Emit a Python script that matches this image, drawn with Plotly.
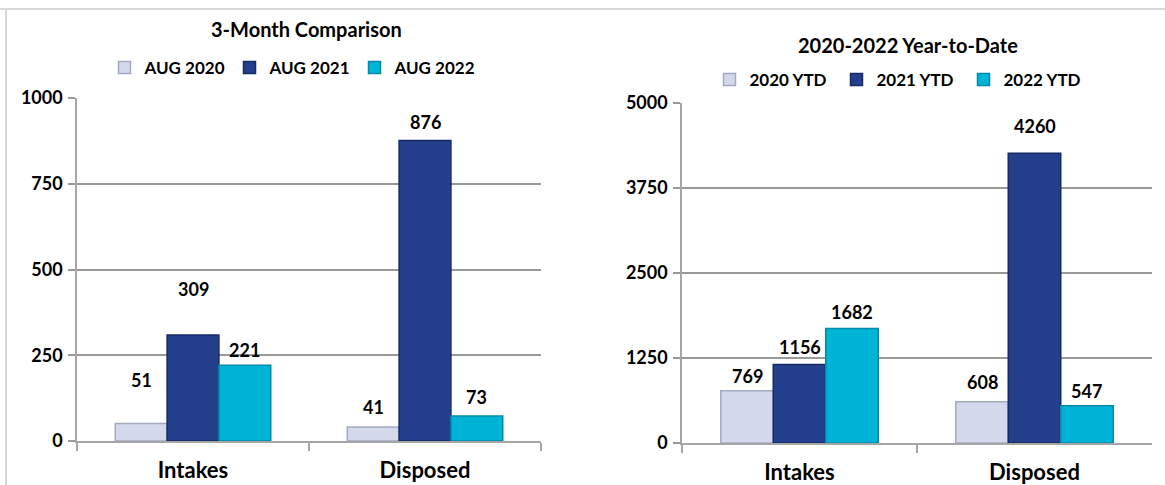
import plotly.graph_objects as go

categories = ["Intakes", "Disposed"]

month_series = ["AUG 2020", "AUG 2021", "AUG 2022"]
month_values = [[51, 41], [309, 876], [221, 73]]

ytd_series = ["2020 YTD", "2021 YTD", "2022 YTD"]
ytd_values = [[769, 608], [1156, 4260], [1682, 547]]

left_ticks = [0, 250, 500, 750, 1000]
right_ticks = [0, 1250, 2500, 3750, 5000]

# styling
colors = ["#d3d8ea", "#243f8c", "#00b4d8"]
line_colors = ["#a3a9c2", "#162a64", "#0089a8"]
W, H = 1165, 485
FONT = "Lato"

# label vertical shifts (px) per series/category, style only
left_shift = [[31, 7], [33, 6], [2, 6]]
right_shift = [[2, 7], [4, 14], [4, 2]]

fig = go.Figure()

def px_x(v):
    return v / W

def px_y(v):
    return (H - v) / H

panels = [
    dict(xa="x", ya="y", series=month_series, values=month_values, legend="legend",
         xdom=[px_x(77), px_x(541)], ydom=[px_y(441), px_y(98)], ticks=left_ticks,
         shift=left_shift),
    dict(xa="x2", ya="y2", series=ytd_series, values=ytd_values, legend="legend2",
         xdom=[px_x(682), px_x(1152)], ydom=[px_y(443), px_y(103)], ticks=right_ticks,
         shift=right_shift),
]

for p in panels:
    for i, (name, vals) in enumerate(zip(p["series"], p["values"])):
        fig.add_trace(go.Bar(
            x=categories, y=vals, name=name,
            xaxis=p["xa"], yaxis=p["ya"], legend=p["legend"],
            marker=dict(color=colors[i], line=dict(color=line_colors[i], width=1.5)),
            hoverinfo="skip",
        ))

bargap = 0.33
annotations = []
for p in panels:
    dom = p["xdom"]
    cat_px = (dom[1] - dom[0]) * W / len(categories)
    bar_px = cat_px * (1 - bargap) / len(p["series"])
    for i, vals in enumerate(p["values"]):
        off = (i - (len(p["series"]) - 1) / 2) * bar_px
        for j, v in enumerate(vals):
            annotations.append(dict(
                x=categories[j], y=v, xref=p["xa"], yref=p["ya"],
                text=f"<b>{v}</b>", showarrow=False, xshift=off,
                yshift=p["shift"][i][j], yanchor="bottom",
                font=dict(family=FONT, size=18, color="black"),
            ))

annotations.append(dict(x=px_x(306), y=px_y(29), xref="paper", yref="paper",
                        text="<b>3-Month Comparison</b>", showarrow=False,
                        xanchor="center", yanchor="middle",
                        font=dict(family=FONT, size=20, color="black")))
annotations.append(dict(x=px_x(908), y=px_y(45), xref="paper", yref="paper",
                        text="<b>2020-2022 Year-to-Date</b>", showarrow=False,
                        xanchor="center", yanchor="middle",
                        font=dict(family=FONT, size=20, color="black")))

tick_font = dict(family=FONT, size=18, color="black", weight="bold")
cat_font = dict(family=FONT, size=22, color="black", weight="bold")
legend_font = dict(family=FONT, size=17, color="black", weight="bold")

def xaxis_cfg(dom, anchor):
    return dict(domain=dom, anchor=anchor, type="category", automargin=False,
                tickson="boundaries", ticks="outside", ticklen=8, tickcolor="#a6a6a6",
                tickwidth=1.5, tickfont=cat_font, ticklabelstandoff=9,
                showgrid=False, showline=True, linecolor="#a6a6a6", linewidth=1.5)

def yaxis_cfg(dom, anchor, rng, tv):
    return dict(domain=dom, anchor=anchor, range=rng, tickvals=tv, automargin=False,
                ticks="outside", ticklen=7, tickcolor="#999999", tickwidth=1.5,
                showgrid=True, gridcolor="#999999", gridwidth=1.5,
                zeroline=False, showline=True, linecolor="#a6a6a6", linewidth=1.5,
                tickfont=tick_font, ticklabelstandoff=2)

fig.update_layout(
    template="none",
    width=W, height=H, autosize=False,
    margin=dict(l=0, r=0, t=0, b=0, pad=0),
    paper_bgcolor="white", plot_bgcolor="white",
    barmode="group", bargap=bargap, bargroupgap=0,
    showlegend=True,
    annotations=annotations,
    font=dict(family=FONT, color="black"),
    xaxis=xaxis_cfg(panels[0]["xdom"], "y"),
    yaxis=yaxis_cfg(panels[0]["ydom"], "x", [0, 1000], left_ticks),
    xaxis2=xaxis_cfg(panels[1]["xdom"], "y2"),
    yaxis2=yaxis_cfg(panels[1]["ydom"], "x2", [0, 5000], right_ticks),
    legend=dict(orientation="h", x=px_x(292), y=px_y(68), xanchor="center", yanchor="middle",
                font=legend_font, itemwidth=30, entrywidth=80, entrywidthmode="pixels",
                tracegroupgap=0, bgcolor="rgba(0,0,0,0)"),
    legend2=dict(orientation="h", x=px_x(900), y=px_y(80), xanchor="center", yanchor="middle",
                 font=legend_font, itemwidth=30, entrywidth=82, entrywidthmode="pixels",
                 tracegroupgap=0, bgcolor="rgba(0,0,0,0)"),
    shapes=[
        dict(type="line", xref="paper", yref="paper", x0=0, x1=1, y0=px_y(9), y1=px_y(9),
             line=dict(color="#d9d9d9", width=2)),
        dict(type="line", xref="paper", yref="paper", x0=px_x(6), x1=px_x(6), y0=px_y(9), y1=0,
             line=dict(color="#d9d9d9", width=2)),
    ],
)

fig.write_html(
    "out.html",
    config={"displayModeBar": False, "responsive": False},
    post_script="document.body.style.margin='0';document.body.style.overflow='hidden';",
)
